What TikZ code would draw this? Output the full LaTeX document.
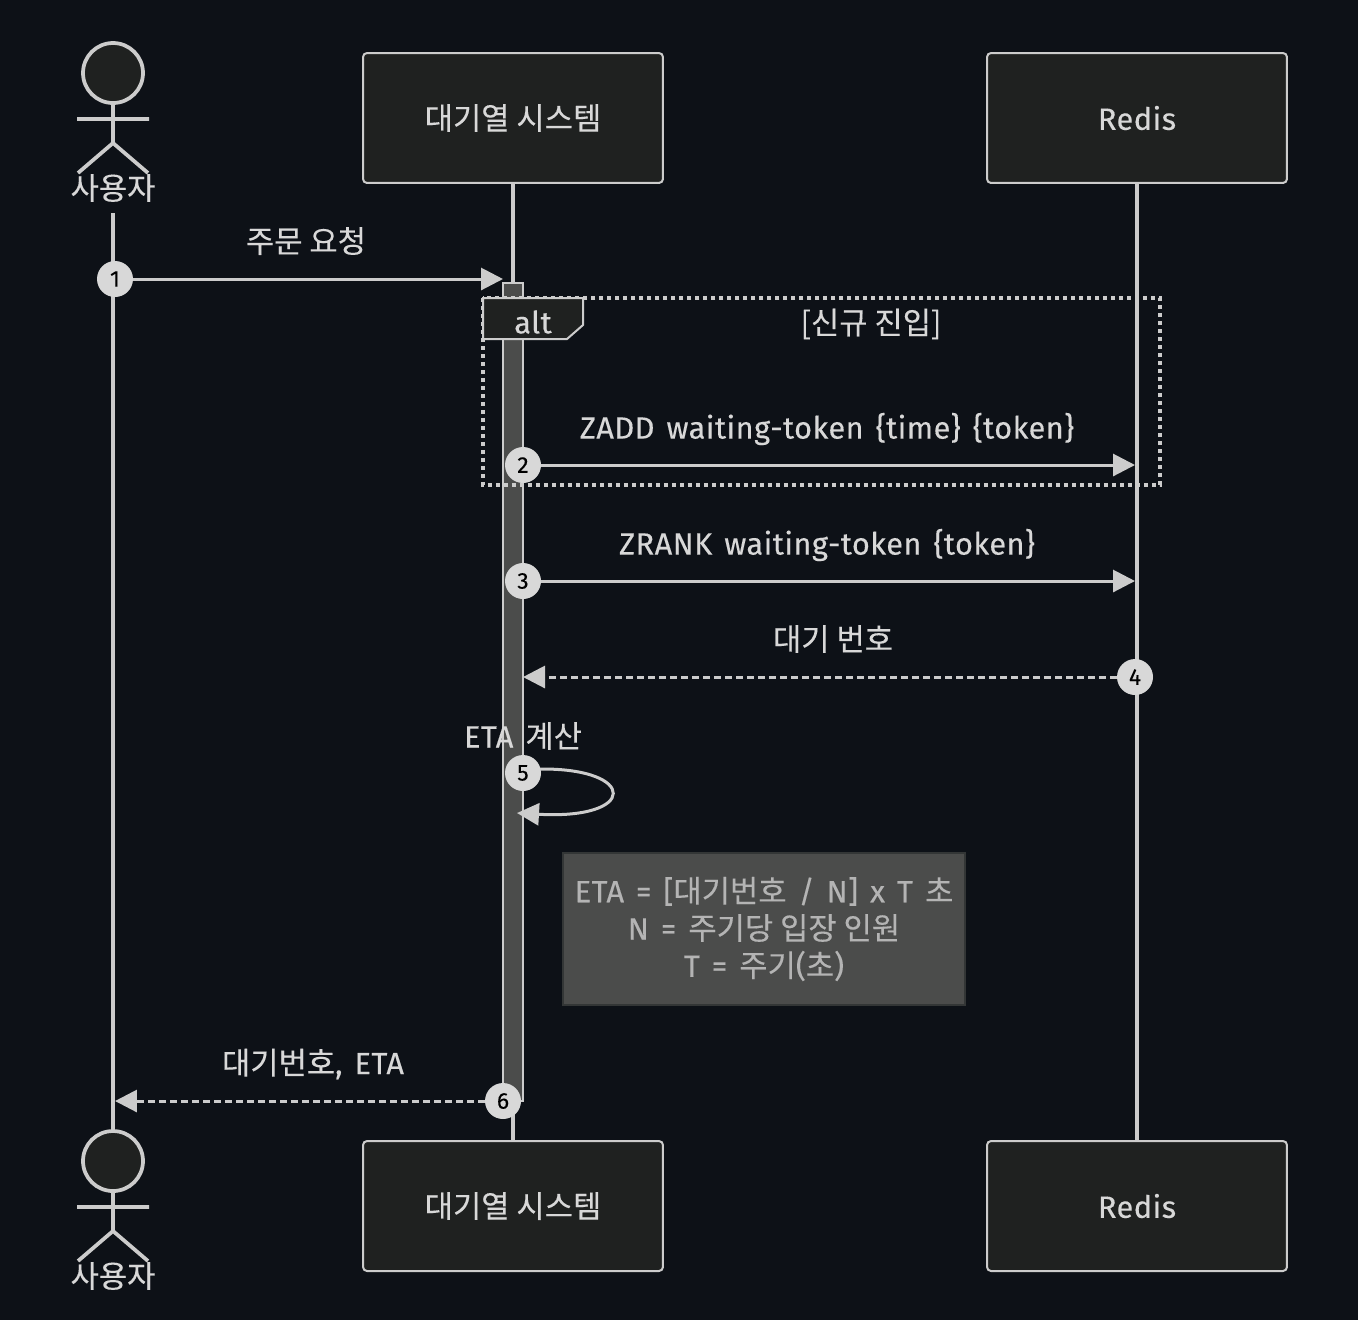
\documentclass[tikz,border=0pt]{standalone}
\usepackage{fontspec}
\setmainfont[LetterSpace=1.5,WordSpace=1.4,FakeBold=0.25]{Fira Sans}
\newfontfamily\kr[FakeBold=0.25]{Noto Sans CJK KR}
\usetikzlibrary{arrows.meta}
\definecolor{bgdark}{HTML}{0D1117}
\definecolor{boxdark}{HTML}{1F2120}
\definecolor{linegray}{HTML}{CCCCCC}
\definecolor{textgray}{HTML}{D8D8D8}
\definecolor{notegray}{HTML}{4B4C4B}
\definecolor{noteedge}{HTML}{333636}
\definecolor{notetext}{HTML}{B4B4B4}
\tikzset{
    wire/.style={draw=linegray, line width=0.06cm},
    lifeline/.style={draw=linegray, line width=0.075cm},
    msg/.style={wire, -{Triangle[length=0.44cm,width=0.44cm]}},
    reply/.style={msg, dash pattern=on 0.13cm off 0.09cm},
    box/.style={draw=linegray, fill=boxdark, line width=0.04cm, rounded corners=0.08cm,
        minimum width=6cm, minimum height=2.6cm, text=textgray, font=\fontsize{17.5}{21}\selectfont},
    label/.style={text=textgray, font=\fontsize{17.5}{21}\selectfont, inner sep=0pt},
    badge/.style={circle, fill=textgray, minimum size=0.72cm, inner sep=0pt, text=black,
        font=\fontsize{13}{15}\selectfont},
}
\begin{document}
\begin{tikzpicture}[x=0.02cm, y=-0.02cm]
    \useasboundingbox (0,0) rectangle (1358,1320);
    \fill[bgdark] (0,0) rectangle (1358,1320);
    % lifelines
    \coordinate (usertopend) at (113,213);
    \coordinate (userbotend) at (113,1130);
    \foreach \dy/\pos in {0/top, 1088/bot} {
        \node[box] (queue\pos) at (513,118+\dy) {\kr 대기열 시스템};
        \node[box] (redis\pos) at (1137,118+\dy) {Redis};
        \node[label] (user\pos) at (113,188+\dy) {\kr 사용자};
        \draw[lifeline, fill=boxdark] (113,73+\dy) circle (30);
        \draw[lifeline] (113,103+\dy) -- (113,143+\dy) (77,119+\dy) -- (149,119+\dy)
            (78,173+\dy) -- (113,143+\dy) -- (148,173+\dy);
    }
    \draw[lifeline] (usertopend) -- (userbotend);
    \draw[lifeline] (queuetop) -- (queuebot);
    \draw[lifeline] (redistop) -- (redisbot);
    % activation bar
    \draw[draw=linegray, fill=notegray, line width=0.04cm] (503,283) rectangle (523,1101);
    % alt frame
    \draw[draw=linegray, line width=0.08cm, dash pattern=on 0.08cm off 0.08cm] (483,298) rectangle (1160,485);
    \draw[draw=linegray, fill=boxdark, line width=0.04cm] (483,298) -- (583,298) -- (583,325) -- (567,339) -- (483,339) -- cycle;
    \node[label] (altname) at (533,322) {alt};
    \node[label] (altcond) at (871,324) {\kr [신규 진입]};
    % messages
    \node[badge] (one) at (115,279) {1};
    \node[badge] (two) at (523,465) {2};
    \node[badge] (three) at (523,581) {3};
    \node[badge] (four) at (1135,677) {4};
    \node[badge] (five) at (523,773) {5};
    \node[badge] (six) at (503,1101) {6};
    \coordinate (onetip) at (503,279);
    \coordinate (twotip) at (1135,465);
    \coordinate (threetip) at (1135,581);
    \coordinate (fourtip) at (523,677);
    \coordinate (fivetip) at (517,813);
    \coordinate (sixtip) at (115,1101);
    \draw[msg] (one) -- (onetip);
    \draw[msg] (two) -- (twotip);
    \draw[msg] (three) -- (threetip);
    \draw[reply] (four) -- (fourtip);
    \draw[msg] (540,769) .. controls (638,768) and (638,820) .. (fivetip);
    \draw[reply] (six) -- (sixtip);
    \node[label] (onetext) at (306,241) {\kr 주문 요청};
    \node[label] (twotext) at (827,429) {ZADD waiting-token \{time\} \{token\}};
    \node[label] (threetext) at (827,545) {ZRANK waiting-token \{token\}};
    \node[label] (fourtext) at (833,639) {\kr 대기 번호};
    \node[label] (fivetext) at (523,736) {ETA {\kr 계산}};
    \node[label] (sixtext) at (313,1064) {{\kr 대기번호}, ETA};
    % note
    \node[draw=noteedge, fill=notegray, line width=0.04cm, minimum width=8.04cm, minimum height=3.04cm, inner sep=0pt,
        text=notetext, align=center, font=\fontsize{17.5}{21.2}\selectfont] (note) at (764,929)
        {ETA = [{\kr 대기번호} / N] x T {\kr 초}\\N = {\kr 주기당 입장 인원}\\T = {\kr 주기}({\kr 초})};
\end{tikzpicture}
\end{document}
